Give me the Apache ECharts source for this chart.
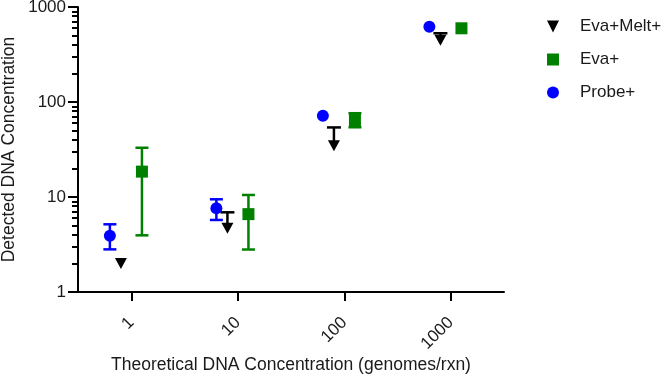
<!DOCTYPE html>
<html><head><meta charset="utf-8">
<script src="https://cdn.jsdelivr.net/npm/echarts@6/dist/echarts.min.js"></script>
<style>html,body{margin:0;padding:0;background:#fff}#c{width:666px;height:374px}</style>
</head><body><div id="c"></div>
<script>
// ---- data ----
const seriesNames = ['Eva+Melt+', 'Eva+', 'Probe+'];
const xTickValues = [1, 10, 100, 1000];
const yTickValues = [1, 10, 100, 1000];
const yMinorTickValues = [2,3,4,5,6,7,8,9,20,30,40,50,60,70,80,90,200,300,400,500,600,700,800,900];

const evaMeltX = [0.8, 8, 80, 800];
const evaMeltY = [2.0, 4.7, 34.6, 447];
const evaMeltErrLow = [null, null, null, null];
const evaMeltErrHigh = [null, 6.9, 54, 529];

const evaX = [1.26, 12.6, 126, 1260];
const evaY = [18.5, 6.6, 64.6, 597];
const evaErrLow = [3.95, 2.8, 54.2, null];
const evaErrHigh = [33, 10.5, 76.2, null];

const probeX = [0.63, 6.3, 63, 630];
const probeY = [3.9, 7.6, 71.7, 620];
const probeErrLow = [2.81, 5.73, null, null];
const probeErrHigh = [5.16, 9.46, null, null];

// ---- chart ----
const L = Math.log10;
const FONT = 'Liberation Sans, Arial, sans-serif';
const TXT = '#1a1a1a';

function pts(xs, ys) { return xs.map((x, i) => [L(x), L(ys[i])]); }
function errData(xs, ys, lo, hi) {
  return xs.map((x, i) => [L(x), L(ys[i]), lo[i] == null ? null : L(lo[i]), hi[i] == null ? null : L(hi[i])]);
}
function errSeries(data, color, capW) {
  return {
    type: 'custom', silent: true, z: 2,
    data: data,
    renderItem: function (params, api) {
      const x = api.value(0), y = api.value(1);
      const lo = api.value(2), hi = api.value(3);
      const hasLo = lo != null && !isNaN(lo), hasHi = hi != null && !isNaN(hi);
      if (!hasLo && !hasHi) return null;
      const pLo = api.coord([x, hasLo ? lo : y]);
      const pHi = api.coord([x, hasHi ? hi : y]);
      const style = { stroke: color, lineWidth: 2.5 };
      const children = [{ type: 'line', shape: { x1: pLo[0], y1: pLo[1], x2: pHi[0], y2: pHi[1] }, style: style }];
      if (hasLo) children.push({ type: 'line', shape: { x1: pLo[0] - capW / 2, y1: pLo[1], x2: pLo[0] + capW / 2, y2: pLo[1] }, style: style });
      if (hasHi) children.push({ type: 'line', shape: { x1: pHi[0] - capW / 2, y1: pHi[1], x2: pHi[0] + capW / 2, y2: pHi[1] }, style: style });
      return { type: 'group', children: children };
    }
  };
}

const chart = echarts.init(document.getElementById('c'), null, { renderer: 'canvas' });
chart.setOption({
  animation: false,
  backgroundColor: '#fff',
  textStyle: { fontFamily: FONT },
  grid: { left: 78, right: 162, top: 7, bottom: 82, containLabel: false, outerBoundsMode: 'none' },
  legend: {
    data: seriesNames,
    orient: 'vertical', left: 542, top: 13,
    itemWidth: 12, itemHeight: 12, itemGap: 16,
    textStyle: { fontFamily: FONT, fontSize: 17, color: TXT, padding: [0, 0, 0, 16] }
  },
  xAxis: {
    type: 'value', min: -0.5, max: 3.5,
    name: 'Theoretical DNA Concentration (genomes/rxn)',
    nameLocation: 'middle', nameGap: 64, nameMoveOverlap: false,
    nameTextStyle: { fontFamily: FONT, fontSize: 17.5, color: TXT },
    axisLine: { show: true, onZero: false, lineStyle: { color: '#000', width: 2 } },
    axisTick: { show: true, length: 9, lineStyle: { color: '#000', width: 2 }, customValues: xTickValues.map(L) },
    axisLabel: {
      customValues: xTickValues.map(L), rotate: 45, margin: 28,
      fontFamily: FONT, fontSize: 17, color: TXT,
      formatter: v => String(Math.round(Math.pow(10, v)))
    },
    splitLine: { show: false }
  },
  yAxis: [{
    type: 'value', min: 0, max: 3, interval: 1, position: 'left',
    name: 'Detected DNA Concentration',
    nameLocation: 'middle', nameGap: 60, nameMoveOverlap: false,
    nameTextStyle: { fontFamily: FONT, fontSize: 17.5, color: TXT },
    axisLine: { show: true, onZero: false, lineStyle: { color: '#000', width: 2 } },
    axisTick: { show: true, length: 10, lineStyle: { color: '#000', width: 2 }, customValues: yTickValues.map(L) },
    axisLabel: {
      customValues: yTickValues.map(L), margin: 12,
      fontFamily: FONT, fontSize: 17, color: TXT,
      formatter: v => String(Math.round(Math.pow(10, v)))
    },
    splitLine: { show: false }
  }, {
    type: 'value', min: 0, max: 3, position: 'left', offset: 0,
    axisLine: { show: false, onZero: false },
    axisTick: { show: true, length: 6, lineStyle: { color: '#000', width: 2 }, customValues: yMinorTickValues.map(L) },
    axisLabel: { show: false },
    splitLine: { show: false }
  }],
  series: [
    errSeries(errData(evaMeltX, evaMeltY, evaMeltErrLow, evaMeltErrHigh), '#000', 14),
    errSeries(errData(evaX, evaY, evaErrLow, evaErrHigh), '#008000', 13),
    errSeries(errData(probeX, probeY, probeErrLow, probeErrHigh), '#0000ff', 13),
    { name: 'Eva+Melt+', type: 'scatter', z: 3, symbol: 'path://M0,0L10,0L5,10Z', symbolSize: [12, 11],
      itemStyle: { color: '#000', opacity: 1 }, data: pts(evaMeltX, evaMeltY) },
    { name: 'Eva+', type: 'scatter', z: 3, symbol: 'rect', symbolSize: 12,
      itemStyle: { color: '#008000', opacity: 1 }, data: pts(evaX, evaY) },
    { name: 'Probe+', type: 'scatter', z: 3, symbol: 'circle', symbolSize: 12,
      itemStyle: { color: '#0000ff', opacity: 1 }, data: pts(probeX, probeY) }
  ]
});
</script>
</body></html>
